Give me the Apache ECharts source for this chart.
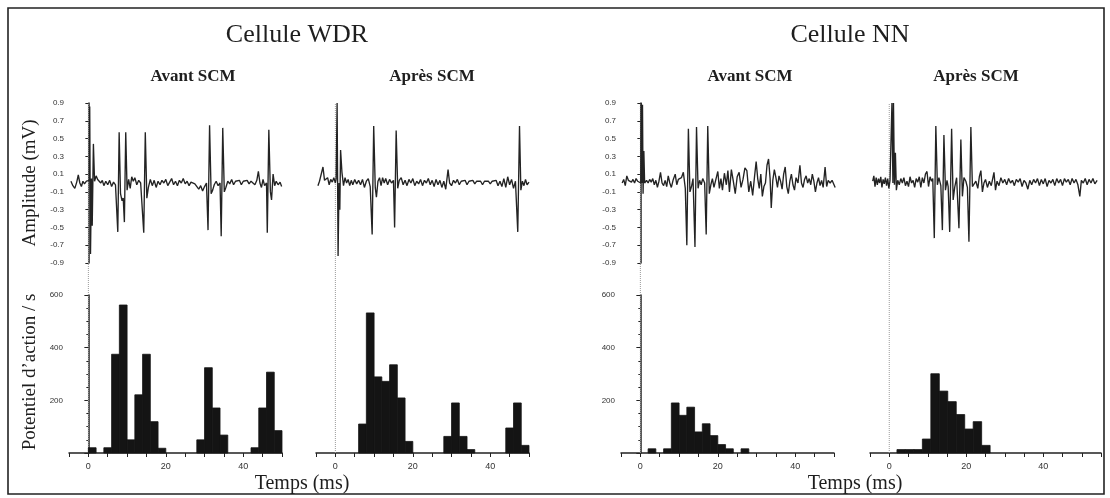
<!DOCTYPE html>
<html><head><meta charset="utf-8">
<script src="https://cdn.jsdelivr.net/npm/echarts@6/dist/echarts.min.js"></script>
<style>html,body{margin:0;padding:0;background:#fff}#c{width:1110px;height:498px}</style>
</head><body><div id="c"></div>
<script>
// ---- text ----
const cellTitles = ['Cellule WDR', 'Cellule NN'];
const conditionTitles = ['Avant SCM', 'Après SCM', 'Avant SCM', 'Après SCM'];
const ampAxisName = 'Amplitude (mV)';
const rateAxisName = 'Potentiel d\u2019action / s';
const timeAxisName = 'Temps (ms)';
// ---- tick labels ----
const timeTickLabels = [0, 20, 40];
const rateTickLabels = [200, 400, 600];
const ampMin = -0.9, ampMax = 0.9, ampStep = 0.2;
const rateMin = 0, rateMax = 600, rateStep = 200;
const timeMin = -5;
const timeMax = [50, 50, 50, 55];
const stimulusTime = 0;

// ---- traces [ms, mV] ----
const wdrAvantTrace = [
[-4.5,0.02],[-4.0,-0.03],[-3.5,-0.06],[-3.0,0.01],[-2.6,0.09],[-2.2,0.0],[-1.8,-0.04],[-1.4,0.02],[-1.0,-0.01],[-0.5,0.02],
[0.0,0.0],[0.25,0.03],[0.35,0.86],[0.55,-0.8],[0.8,0.05],[1.0,-0.48],[1.3,0.44],[1.6,0.02],[2.0,0.08],[2.4,0.04],
[2.8,0.06],[3.2,0.0],[3.6,0.03],[4.0,-0.03],[4.5,0.02],[5.0,-0.02],[5.5,0.03],[6.0,-0.04],[6.5,0.01],[7.0,-0.02],
[7.4,0.0],[7.6,-0.55],[7.95,0.57],[8.3,-0.12],[8.7,-0.2],[9.0,-0.17],[9.3,-0.44],[9.65,0.57],[10.0,-0.08],[10.4,0.04],
[10.8,-0.06],[11.2,0.07],[11.6,0.02],[12.0,0.06],[12.5,-0.02],[13.0,0.03],[13.5,0.0],[14.0,0.02],[14.3,-0.56],[14.7,0.57],
[15.1,-0.17],[15.5,-0.05],[16.0,0.04],[16.5,-0.03],[17.0,0.03],[17.5,-0.05],[18.0,0.02],[18.5,-0.02],[19.0,0.03],[19.5,0.0],
[20.0,0.04],[20.5,-0.03],[21.0,0.01],[21.5,0.05],[22.0,-0.02],[22.5,0.02],[23.0,-0.03],[23.5,0.03],[24.0,0.0],[24.5,0.05],
[25.0,-0.01],[25.5,0.02],[26.0,-0.03],[26.5,0.01],[27.0,0.03],[27.5,-0.01],[28.0,-0.02],[28.5,-0.07],[29.0,-0.03],[29.5,-0.09],
[30.0,-0.04],[30.5,0.0],[30.9,-0.53],[31.3,0.65],[31.7,-0.12],[32.1,-0.08],[32.5,-0.02],[33.0,0.02],[33.5,-0.03],[34.0,0.0],
[34.3,-0.6],[34.7,0.62],[35.1,-0.1],[35.5,-0.05],[36.0,0.02],[36.5,-0.01],[37.0,0.04],[37.5,-0.02],[38.0,0.02],[38.5,0.0],
[39.0,0.03],[39.5,-0.02],[40.0,0.02],[40.5,0.0],[41.0,0.03],[41.5,-0.01],[42.0,0.02],[42.5,0.0],[43.0,-0.02],[43.5,0.03],
[43.9,0.13],[44.3,0.0],[44.7,-0.05],[45.1,0.04],[45.5,-0.03],[46.0,0.0],[46.2,-0.56],[46.6,0.6],[47.0,-0.1],[47.3,-0.19],
[47.7,0.1],[48.1,-0.03],[48.5,0.02],[49.0,-0.02],[49.5,0.01],[49.9,-0.04]
];
const wdrApresTrace = [
[-4.5,-0.03],[-4.1,0.02],[-3.7,0.0],[-3.2,0.18],[-2.8,0.03],[-2.4,0.01],[-2.0,0.06],[-1.6,-0.02],[-1.2,0.04],[-0.8,0.01],
[-0.4,0.06],[0.0,0.0],[0.2,0.05],[0.45,0.9],[0.7,-0.82],[0.95,0.0],[1.15,-0.3],[1.35,0.37],[1.7,0.12],[2.1,-0.03],
[2.5,0.06],[2.9,0.0],[3.3,0.04],[3.7,-0.03],[4.1,0.03],[4.5,-0.02],[5.0,0.04],[5.5,-0.01],[6.0,0.03],[6.5,-0.02],
[7.0,0.04],[7.5,-0.05],[8.0,0.02],[8.5,0.05],[9.0,-0.04],[9.5,-0.58],[9.9,0.64],[10.3,-0.05],[10.6,-0.16],[11.0,0.02],
[11.4,0.06],[11.8,-0.03],[12.2,0.06],[12.6,0.0],[13.0,0.05],[13.5,-0.02],[14.0,0.04],[14.5,0.0],[15.0,0.03],[15.3,-0.5],
[15.7,0.59],[16.1,-0.06],[16.5,0.03],[17.0,0.06],[17.5,-0.02],[18.0,0.03],[18.5,-0.03],[19.0,0.04],[19.5,0.0],[20.0,0.05],
[20.5,-0.03],[21.0,0.02],[21.5,-0.01],[22.0,0.04],[22.5,-0.03],[23.0,0.03],[23.5,0.0],[24.0,0.05],[24.5,-0.02],[25.0,0.03],
[25.5,-0.04],[26.0,0.04],[26.5,-0.02],[27.0,0.03],[27.5,-0.05],[28.0,0.02],[28.5,-0.07],[29.1,0.15],[29.5,0.0],[30.0,-0.03],
[30.5,0.03],[31.0,0.0],[31.5,0.04],[32.0,-0.02],[32.5,0.02],[33.0,0.0],[33.5,0.03],[34.0,-0.02],[34.5,0.02],[35.0,0.0],
[35.5,0.03],[36.0,-0.01],[36.5,0.02],[37.0,0.0],[37.5,0.02],[38.0,-0.02],[38.5,0.02],[39.0,0.0],[39.5,0.02],[40.0,-0.01],
[40.5,0.02],[41.0,0.0],[41.5,0.03],[42.0,-0.03],[42.5,0.02],[43.0,-0.04],[43.5,0.05],[44.0,-0.05],[44.5,0.07],[45.0,-0.02],
[45.5,0.04],[46.0,-0.06],[46.5,0.02],[47.1,-0.55],[47.55,0.64],[47.9,-0.08],[48.3,0.02],[48.7,-0.03],[49.1,0.04],[49.5,-0.02],
[50.0,0.01]
];
const nnAvantTrace = [
[-4.7,0.0],[-4.3,0.04],[-3.9,-0.03],[-3.5,0.08],[-3.1,0.03],[-2.7,0.05],[-2.3,0.01],[-1.9,0.04],[-1.5,0.0],[-1.1,0.05],
[-0.7,0.02],[-0.3,0.04],[0.1,0.0],[0.2,0.9],[0.4,0.0],[0.55,0.88],[0.7,-0.12],[0.9,0.36],[1.1,0.0],[1.6,0.03],
[2.0,0.0],[2.4,0.04],[2.8,0.01],[3.2,0.05],[3.6,-0.02],[4.0,0.03],[4.4,-0.05],[4.8,0.02],[5.2,0.12],[5.6,0.0],
[6.0,-0.03],[6.4,0.03],[6.8,-0.04],[7.2,0.08],[7.6,0.0],[8.0,-0.05],[8.5,0.04],[9.0,0.1],[9.4,-0.02],[9.8,0.04],
[10.2,0.02],[10.6,0.06],[11.1,0.12],[11.6,-0.06],[12.0,-0.7],[12.4,0.61],[12.8,-0.1],[13.2,-0.04],[13.6,0.05],[14.1,-0.72],
[14.5,0.63],[14.9,-0.06],[15.3,0.03],[15.7,-0.02],[16.1,0.05],[16.6,0.0],[17.0,-0.58],[17.4,0.64],[17.8,-0.12],[18.2,-0.02],
[18.6,0.05],[19.0,-0.05],[19.5,0.04],[20.0,0.13],[20.4,-0.06],[20.8,0.05],[21.2,-0.08],[21.7,0.11],[22.2,-0.02],[22.6,0.14],
[23.0,-0.1],[23.5,0.15],[24.0,0.02],[24.5,-0.12],[25.0,0.07],[25.5,0.12],[26.0,-0.05],[26.5,0.04],[27.0,0.17],[27.5,0.14],
[28.0,-0.1],[28.5,0.02],[29.0,-0.14],[29.5,0.08],[29.9,0.24],[30.3,0.05],[30.7,-0.06],[31.1,0.1],[31.5,-0.15],[31.9,-0.04],
[32.3,0.0],[32.7,0.2],[33.1,0.27],[33.5,0.05],[33.8,-0.28],[34.2,0.03],[34.6,0.15],[35.0,0.06],[35.4,-0.05],[35.8,0.08],
[36.2,0.02],[36.6,-0.07],[37.0,0.1],[37.4,0.18],[37.8,-0.04],[38.2,-0.12],[38.6,0.02],[39.0,0.1],[39.4,-0.02],[39.8,-0.08],
[40.2,0.06],[40.7,0.0],[41.2,0.2],[41.6,0.0],[42.0,-0.05],[42.4,0.04],[42.8,0.08],[43.2,0.0],[43.6,0.05],[44.0,-0.02],
[44.4,0.1],[44.8,0.02],[45.2,-0.1],[45.6,0.0],[46.0,0.06],[46.4,-0.03],[46.8,0.03],[47.2,-0.05],[47.7,0.18],[48.1,-0.04],
[48.5,0.03],[49.0,0.0],[49.5,0.03],[50.0,-0.02],[50.3,-0.05]
];
const nnApresTrace = [
[-4.3,0.02],[-4.0,0.08],[-3.7,-0.04],[-3.4,0.06],[-3.1,-0.02],[-2.8,0.05],[-2.5,0.0],[-2.2,0.07],[-1.9,-0.05],[-1.6,0.04],
[-1.3,-0.01],[-1.0,0.06],[-0.7,-0.03],[-0.4,0.05],[-0.1,-0.06],[0.2,0.03],[0.5,0.01],[0.7,0.9],[0.95,0.0],[1.1,0.9],
[1.35,-0.02],[1.6,0.34],[1.85,-0.08],[2.2,0.03],[2.6,-0.02],[3.0,0.05],[3.4,0.0],[3.8,0.06],[4.2,-0.03],[4.6,0.02],
[5.0,-0.04],[5.4,0.07],[5.8,0.0],[6.2,0.03],[6.6,-0.05],[7.0,0.05],[7.4,0.01],[7.8,0.07],[8.2,-0.05],[8.6,0.06],
[9.0,0.0],[9.4,0.1],[9.8,0.13],[10.2,-0.04],[10.6,0.07],[11.0,0.02],[11.3,0.05],[11.7,-0.62],[12.1,0.64],[12.5,-0.02],
[12.9,0.06],[13.4,-0.03],[13.8,-0.53],[14.2,0.54],[14.6,-0.08],[15.0,0.03],[15.3,-0.04],[15.7,-0.55],[16.2,0.61],[16.6,-0.19],
[17.0,-0.05],[17.5,0.06],[18.1,-0.51],[18.6,0.49],[19.0,-0.15],[19.4,0.06],[19.9,0.02],[20.3,-0.05],[20.7,-0.66],[21.2,0.63],
[21.6,-0.04],[22.0,-0.03],[22.5,0.02],[23.0,-0.06],[23.4,0.07],[23.8,0.14],[24.2,-0.1],[24.6,0.0],[25.0,0.04],[25.5,-0.05],
[26.0,0.02],[26.5,-0.03],[27.2,0.12],[27.6,-0.08],[28.0,0.02],[28.5,-0.03],[29.0,0.06],[29.5,0.0],[30.0,0.04],[30.5,-0.02],
[31.0,0.05],[31.5,0.0],[32.0,0.03],[32.5,-0.03],[33.0,0.04],[33.5,0.01],[34.0,0.05],[34.5,-0.04],[35.0,0.03],[35.5,0.0],
[36.0,-0.07],[36.5,0.03],[37.0,-0.02],[37.5,0.04],[38.0,0.0],[38.5,0.05],[39.0,-0.03],[39.5,0.04],[40.0,-0.01],[40.5,0.05],
[41.0,-0.04],[41.5,0.03],[42.0,0.0],[42.5,0.04],[43.0,-0.03],[43.5,0.05],[44.0,0.0],[44.5,0.04],[45.0,-0.03],[45.5,0.05],
[46.0,0.01],[46.5,0.04],[47.0,-0.02],[47.5,0.05],[48.0,0.0],[48.5,0.04],[49.0,-0.02],[49.5,-0.15],[49.9,0.03],[50.4,0.0],
[50.9,0.05],[51.4,-0.02],[51.9,0.04],[52.4,0.0],[52.9,0.05],[53.4,-0.01],[54.0,0.03]
];

// ---- histograms [bin start ms, bin end ms, action potentials / s] ----
const wdrAvantHist = [
[0,2,20],[4,6,20],[6,8,375],[8,10,562],[10,12,50],[12,14,221],[14,16,375],[16,18,119],[18,20,18],
[28,30,50],[30,32,324],[32,34,171],[34,36,68],[42,44,20],[44,46,171],[46,48,307],[48,50,85]
];
const wdrApresHist = [
[6,8,110],[8,10,532],[10,12,289],[12,14,272],[14,16,335],[16,18,209],[18,20,44],
[28,30,63],[30,32,190],[32,34,63],[34,36,13],[44,46,95],[46,48,190],[48,50,29]
];
const nnAvantHist = [
[2,4,16],[6,8,16],[8,10,190],[10,12,143],[12,14,174],[14,16,80],[16,18,111],[18,20,66],[20,22,32],[22,24,16],[26,28,16]
];
const nnApresHist = [
[2.0,4.2,13],[4.2,6.4,13],[6.4,8.6,13],[8.6,10.8,53],[10.8,13.0,301],[13.0,15.2,235],[15.2,17.4,195],
[17.4,19.6,146],[19.6,21.8,91],[21.8,24.0,119],[24.0,26.2,29]
];

const traces = [wdrAvantTrace, wdrApresTrace, nnAvantTrace, nnApresTrace];
const hists = [wdrAvantHist, wdrApresHist, nnAvantHist, nnApresHist];

// ---- layout (pixels) ----
const panelLeft = [69, 316, 621, 870];
const panelWidth = [213, 213, 213, 231];
const showYAxis = [true, false, true, false];
const serif = '"Liberation Serif", "DejaVu Serif", serif';
const tickFont = '"Liberation Sans", Arial, sans-serif';
const ink = '#222';

const grid = [], xAxis = [], yAxis = [], series = [];
for (let i = 0; i < 4; i++) {
  const base = grid.length;
  grid.push({left: panelLeft[i], width: panelWidth[i], top: 103, height: 160});
  grid.push({left: panelLeft[i], width: panelWidth[i], top: 295, height: 158});
  grid.push({left: panelLeft[i], width: panelWidth[i], top: 103, height: 350});
  xAxis.push({gridIndex: base, type: 'value', min: timeMin, max: timeMax[i], show: false});
  xAxis.push({gridIndex: base + 1, type: 'value', min: timeMin, max: timeMax[i], interval: 5,
    axisLine: {show: true, onZero: false, lineStyle: {color: ink, width: 1.5}},
    axisTick: {show: true, length: 4, lineStyle: {color: ink, width: 1}},
    axisLabel: {show: true, margin: 9, fontSize: 9, fontFamily: tickFont, color: '#333',
      formatter: v => timeTickLabels.includes(Math.round(v)) && Math.abs(v - Math.round(v)) < 1e-6 ? String(Math.round(v)) : ''},
    splitLine: {show: false}});
  xAxis.push({gridIndex: base + 2, type: 'value', min: timeMin, max: timeMax[i], show: false});

  yAxis.push({gridIndex: base, type: 'value', min: ampMin, max: ampMax, interval: ampStep, show: showYAxis[i],
    axisLine: {show: true, lineStyle: {color: ink, width: 1.5}},
    axisTick: {show: true, length: 3, lineStyle: {color: ink}},
    axisLabel: {show: true, margin: 5, fontSize: 8, fontFamily: tickFont, color: '#333', showMaxLabel: true, showMinLabel: true,
      formatter: v => (Math.abs(v) < 1e-9 ? 0 : v).toFixed(1)},
    splitLine: {show: false}});
  yAxis.push({gridIndex: base + 1, type: 'value', min: rateMin, max: rateMax, interval: rateStep, show: showYAxis[i],
    axisLine: {show: true, lineStyle: {color: ink, width: 1.5}},
    axisTick: {show: true, length: 4, lineStyle: {color: ink}},
    minorTick: {show: true, splitNumber: 4, length: 2, lineStyle: {color: ink}},
    axisLabel: {show: true, margin: 6, fontSize: 8, fontFamily: tickFont, color: '#333',
      formatter: v => rateTickLabels.includes(v) ? String(v) : ''},
    splitLine: {show: false}, minorSplitLine: {show: false}});
  yAxis.push({gridIndex: base + 2, type: 'value', min: 0, max: 1, show: false});

  series.push({type: 'line', xAxisIndex: base + 2, yAxisIndex: base + 2, data: [[stimulusTime, 0], [stimulusTime, 1]],
    showSymbol: false, symbol: 'none', silent: true, z: 1,
    lineStyle: {color: '#9a9a9a', width: 1, type: 'dotted'}});
  series.push({type: 'line', xAxisIndex: base, yAxisIndex: base, data: traces[i],
    showSymbol: false, symbol: 'none', silent: true, z: 3,
    lineStyle: {color: '#232323', width: 1.35}});
  series.push({type: 'custom', xAxisIndex: base + 1, yAxisIndex: base + 1, data: hists[i], z: 2,
    encode: {x: [0, 1], y: 2},
    renderItem: (params, api) => {
      const p0 = api.coord([api.value(0), api.value(2)]);
      const p1 = api.coord([api.value(1), 0]);
      return {type: 'rect', shape: {x: p0[0], y: p0[1], width: p1[0] - p0[0], height: p1[1] - p0[1]},
        style: {fill: '#141414', stroke: '#141414', lineWidth: 0.8}};
    }});
}

function txt(text, x, y, size, weight, rot) {
  return {type: 'text', x: x, y: y, rotation: rot || 0, silent: true, z: 10,
    style: {text: text, align: 'center', verticalAlign: 'middle', textAlign: 'center', textVerticalAlign: 'middle',
      fontSize: size, fontWeight: weight || 'normal', fontFamily: serif, fill: '#1e1e1e'}};
}

const graphic = [
  {type: 'rect', shape: {x: 8, y: 8, width: 1096, height: 486}, silent: true, z: 0,
    style: {fill: 'none', stroke: '#222', lineWidth: 1.6}},
  txt(cellTitles[0], 297, 35, 26),
  txt(cellTitles[1], 850, 35, 26),
  txt(conditionTitles[0], 193, 77, 17, 'bold'),
  txt(conditionTitles[1], 432, 77, 17, 'bold'),
  txt(conditionTitles[2], 750, 77, 17, 'bold'),
  txt(conditionTitles[3], 976, 77, 17, 'bold'),
  txt(ampAxisName, 30, 183, 19, 'normal', Math.PI / 2),
  txt(rateAxisName, 30, 372, 19, 'normal', Math.PI / 2),
  txt(timeAxisName, 302, 484, 20),
  txt(timeAxisName, 855, 484, 20)
];

const chart = echarts.init(document.getElementById('c'), null, {renderer: 'canvas'});
chart.setOption({backgroundColor: '#fff', animation: false, grid, xAxis, yAxis, series, graphic});
</script></body></html>
